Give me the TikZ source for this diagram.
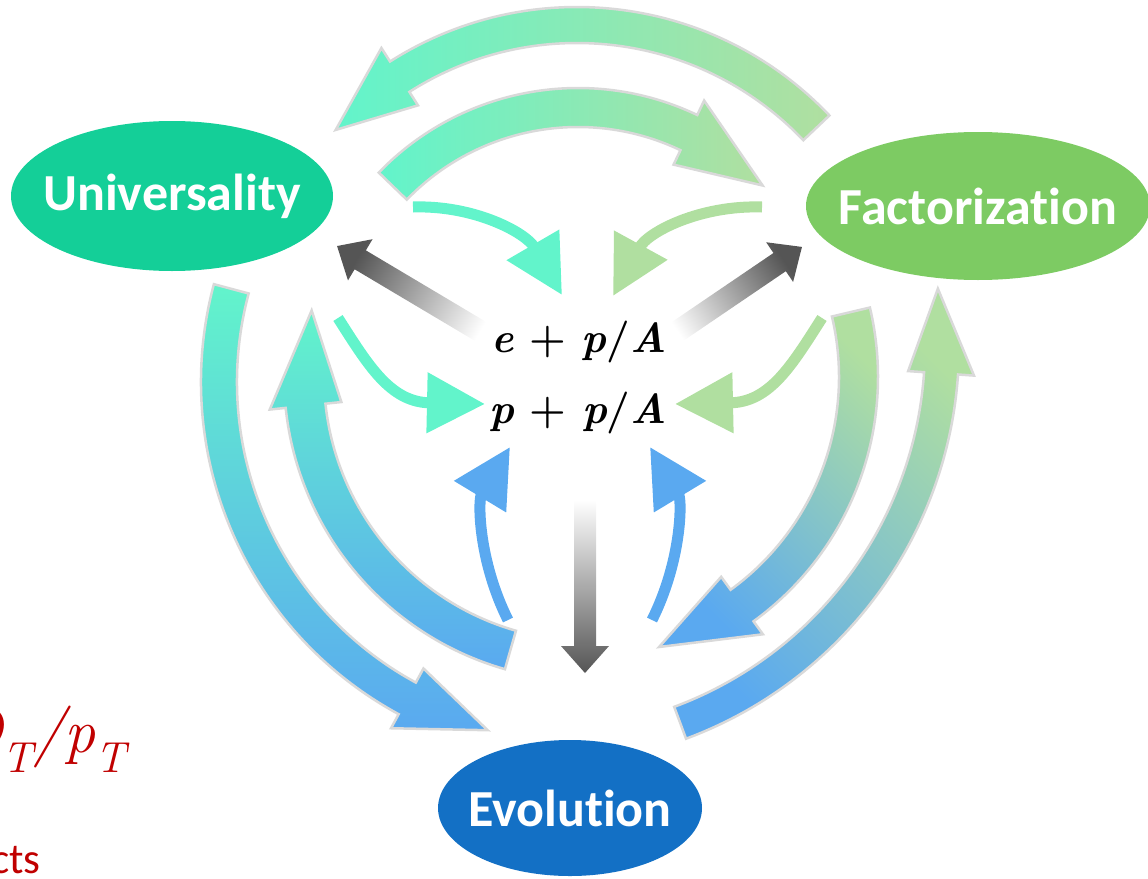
\documentclass[tikz,border=0pt]{standalone}
\usepackage{fontspec}
\newfontfamily\labelfont[Ligatures=NoCommon]{Carlito}
\usetikzlibrary{arrows.meta,shapes.geometric}

\definecolor{univgreen}{HTML}{14CF98}
\definecolor{factgreen}{HTML}{7DCB63}
\definecolor{evolblue}{HTML}{1370C5}
\definecolor{mint}{HTML}{62F4CB}
\definecolor{sage}{HTML}{B0DFA0}
\definecolor{sky}{HTML}{5AA9F0}
\definecolor{rim}{HTML}{D9D9D9}
\definecolor{smoke}{HTML}{555555}
\definecolor{darkred}{HTML}{C00000}

\tikzset{
  topic/.style={ellipse, inner xsep=-80pt, inner ysep=-40pt, text=white,
    font=\labelfont\bfseries\fontsize{52}{60}\selectfont},
  band/.style={draw=rim, line width=2.5pt},
  curl/.style={line width=11pt, -{Triangle[length=58pt,width=58pt]}},
  formula/.style={anchor=base, font=\bfseries\fontsize{42}{50}\selectfont},
}

% curved block arrow: #1 shading, #2 centre, #3/#4 inner/outer radius,
% #5 tail angle, #6 angle where the head starts, #7 tip angle
\newcommand{\bentarrow}[7]{%
  \begin{scope}[shift={#2}]
    \path[band,#1] ({#5}:{#4}) arc[start angle=#5, end angle=#6, radius=#4]
      -- ({#6}:{#4+16}) -- ({#7}:{(#3+#4)/2}) -- ({#6}:{#3-16})
      -- ({#6}:{#3}) arc[start angle=#6, end angle=#5, radius=#3] -- cycle;
  \end{scope}}

% straight arrow fading out: #1 shading, #2 foot, #3 direction, #4 length
\newcommand{\fadearrow}[4]{%
  \begin{scope}[shift={#2}, rotate=#3]
    \path[#1] (0,-11) -- ({#4-27},-11) -- ({#4-27},-24) -- (#4,0)
      -- ({#4-27},24) -- ({#4-27},11) -- (0,11) -- cycle;
  \end{scope}}

\begin{document}
\begin{tikzpicture}[x=1pt,y=-1pt]
\useasboundingbox (0,0) rectangle (1148,878);
\clip (0,0) rectangle (1148,878);

% big arrows
\bentarrow{left color=mint, right color=sage}{(577,355)}{312}{348}{-43.5}{-122.5}{-137}
\bentarrow{left color=mint, right color=sage}{(578,365)}{238}{277}{-136}{-64.5}{-44.2}
\bentarrow{top color=mint, bottom color=sky}{(579,382)}{342}{378}{195}{118.5}{104.7}
\bentarrow{top color=mint, bottom color=sky}{(589,376)}{265}{305}{106}{174}{193.3}
\bentarrow{top color=sage, bottom color=sky, shading angle=-45}{(576,377)}{263}{302}{-13.3}{54}{72.9}
\bentarrow{top color=sage, bottom color=sky, shading angle=-45}{(540,346)}{385}{419}{69.6}{3.9}{-8.2}

% grey arrows
\fadearrow{top color=smoke, bottom color=white, shading angle=59.25}{(495,340)}{149.25}{183.8}
\fadearrow{top color=smoke, bottom color=white, shading angle=-55.8}{(665,340)}{34.2}{165.6}
\fadearrow{top color=white, bottom color=smoke}{(585,500)}{-90}{173}

% small arrows
\coordinate (ua) at (413,207);
\coordinate (ub) at (562,295);
\coordinate (fa) at (762,207);
\coordinate (fb) at (613,296);
\coordinate (uc) at (338,318);
\coordinate (ud) at (485,404);
\coordinate (fc) at (822,318);
\coordinate (fd) at (675,404);
\coordinate (ea) at (508,620);
\coordinate (eb) at (510,447);
\coordinate (ec) at (652,620);
\coordinate (ed) at (650,447);

\draw[curl, mint] (ua) .. controls (475,205) and (526,233) .. (ub);
\draw[curl, sage] (fa) .. controls (700,205) and (648,232) .. (fb);
\draw[curl, mint] (uc) .. controls (368,365) and (390,402) .. (ud);
\draw[curl, sage] (fc) .. controls (792,365) and (770,402) .. (fd);
\draw[curl, sky] (ea) .. controls (478,560) and (478,500) .. (eb);
\draw[curl, sky] (ec) .. controls (682,560) and (682,500) .. (ed);

% topics
\node[topic, fill=univgreen, minimum width=322pt, minimum height=150pt] (univ) at (172,196) {Universality};
\node[topic, fill=factgreen, minimum width=344pt, minimum height=148pt] (fact) at (978,206) {Factorization};
\node[topic, fill=evolblue, minimum width=264pt, minimum height=136pt] (evol) at (570,808) {Evolution};

\node[formula] (ep) at (579,352) {{\itshape e} + {\itshape p}/{\itshape A}};
\node[formula] (pp) at (578,423) {{\itshape p} + {\itshape p}/{\itshape A}};

\node[anchor=base east, text=darkred, font=\itshape\fontsize{62}{70}\selectfont] (qpt) at (130,752) {Q\textsubscript{T}/p\textsubscript{T}};
\node[anchor=base east, text=darkred, font=\labelfont\fontsize{43}{50}\selectfont] (cts) at (44,873) {cts};
\end{tikzpicture}
\end{document}
